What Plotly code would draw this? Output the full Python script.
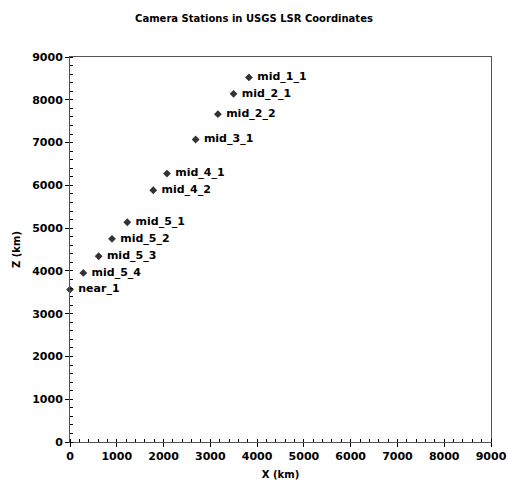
import plotly.graph_objects as go

names = ["mid_1_1", "mid_2_1", "mid_2_2", "mid_3_1", "mid_4_1", "mid_4_2",
         "mid_5_1", "mid_5_2", "mid_5_3", "mid_5_4", "near_1"]
x_km = [3825, 3497, 3162, 2686, 2073, 1780, 1225, 898, 613, 285, 0]
z_km = [8522, 8140, 7663, 7071, 6276, 5885, 5137, 4749, 4342, 3953, 3563]

FONT = "DejaVu Sans, Verdana, sans-serif"

fig = go.Figure(go.Scatter(
    x=x_km, y=z_km, mode="markers+text", text=names,
    texttemplate="\u00a0<b>%{text}</b>",
    textposition="middle right",
    textfont=dict(family=FONT, size=11, color="#000"),
    marker=dict(symbol="diamond", size=6, color="#333"),
    cliponaxis=False, hoverinfo="skip"))

axis_common = dict(
    range=[0, 9000], dtick=1000, showgrid=False, zeroline=False,
    showline=True, linecolor="#555", linewidth=1, mirror=True,
    ticks="outside", ticklen=4, tickcolor="#000", automargin=False,
    tickprefix="<b>", ticksuffix="</b>",
    tickfont=dict(family=FONT, size=11, color="#000"),
    minor=dict(dtick=200, ticks="inside", ticklen=3, tickcolor="#000"),
)

fig.update_layout(
    width=508, height=480,
    paper_bgcolor="white", plot_bgcolor="white",
    margin=dict(l=70, r=17, t=57, b=38),
    showlegend=False,
    title=dict(text="<b>Camera Stations in USGS LSR Coordinates</b>",
               x=0.5, xanchor="center", y=1 - 18 / 480, yanchor="middle",
               font=dict(family=FONT, size=10, color="#000")),
    xaxis=dict(axis_common,
               title=dict(text="<b>X (km)</b>", standoff=10,
                          font=dict(family=FONT, size=10, color="#000"))),
    yaxis=dict(axis_common,
               title=dict(text="<b>Z (km)</b>", standoff=9,
                          font=dict(family=FONT, size=10, color="#000"))),
)

fig.write_html("out.html",
               config={"displayModeBar": False, "staticPlot": True},
               post_script="document.body.style.margin='0';"
                           "document.body.style.overflow='hidden';")
